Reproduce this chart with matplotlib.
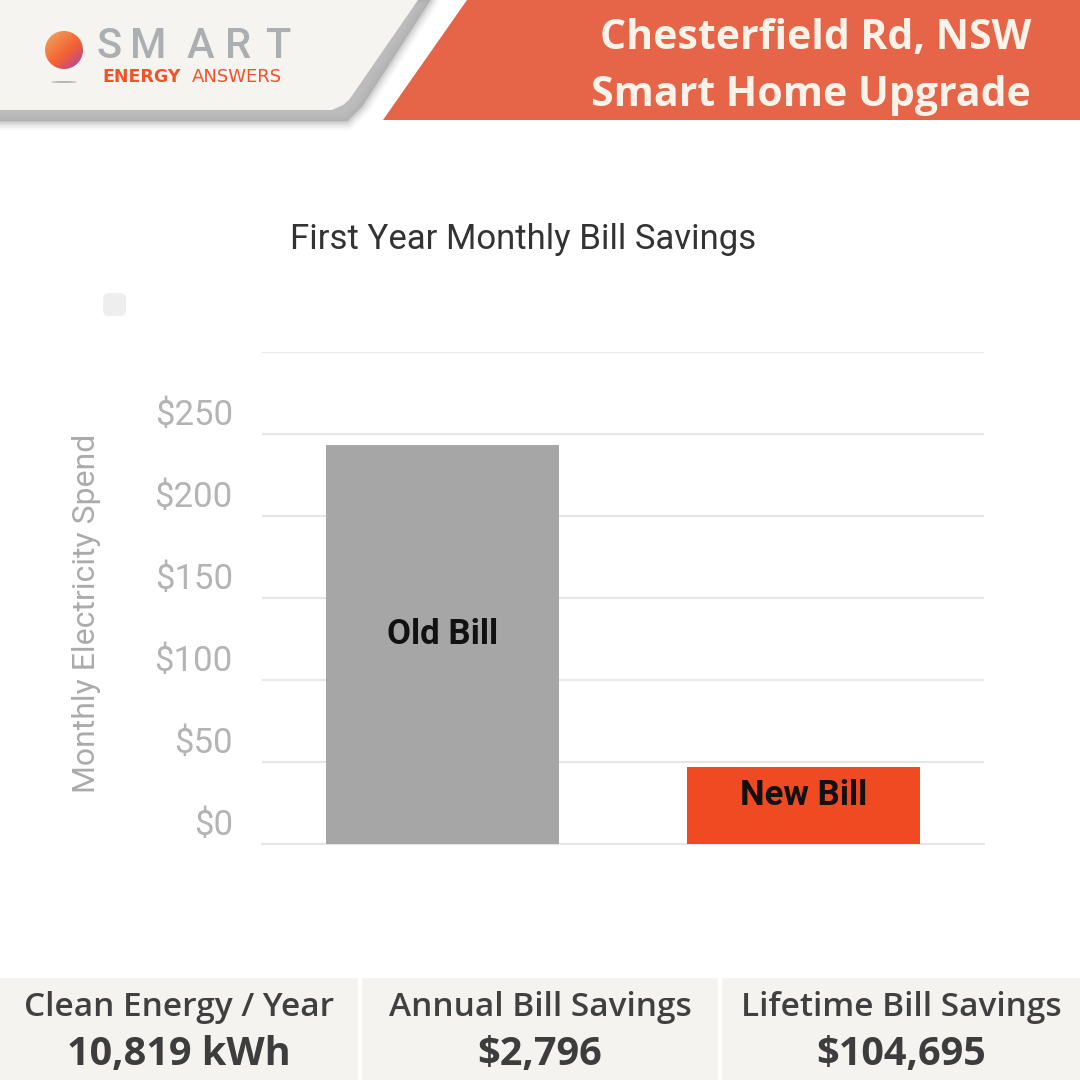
import numpy as np
import matplotlib
matplotlib.use('Agg')
import matplotlib.pyplot as plt
from matplotlib.patches import Polygon, Rectangle, FancyBboxPatch, Circle, Ellipse
from matplotlib.transforms import ScaledTranslation

# chart values
categories = ['Old Bill', 'New Bill']
bill_values = [243.5, 47]
bar_colors = ['#a6a6a6', '#f04a23']
y_ticks = [0, 50, 100, 150, 200, 250, 300]
y_tick_labels = ['$0', '$50', '$100', '$150', '$200', '$250', '']

# footer stats
stat_titles = ['Clean Energy / Year', 'Annual Bill Savings', 'Lifetime Bill Savings']
stat_values = ['10,819 kWh', '$2,796', '$104,695']

header_lines = ['Chesterfield Rd, NSW', 'Smart Home Upgrade']
logo_letters = list('SMART')

fig = plt.figure(figsize=(10.8, 10.8), dpi=100, facecolor='white')

# full figure layer in pixels for the banner and footer
bg = fig.add_axes([0, 0, 1, 1])
bg.set_xlim(0, 1080)
bg.set_ylim(1080, 0)
bg.axis('off')

# banner shadow, stacked strokes to fake the blur
shadow_pts = [(-20, 0), (430, 0), (362, 106), (347, 121), (-20, 121)]
for lw, a in zip([13, 10, 7, 4, 1], [0.08, 0.12, 0.18, 0.3, 0.6]):
    bg.add_patch(Polygon(shadow_pts, closed=True, facecolor='#aeaeae', edgecolor='#aeaeae',
                         linewidth=lw, alpha=a, joinstyle='round'))
bg.add_patch(Polygon([(0, 0), (418, 0), (349, 100), (343, 105), (332, 110), (0, 110)],
                     closed=True, facecolor='#f5f4f1', edgecolor='none'))

# orange banner
bg.add_patch(Polygon([(467, 0), (1080, 0), (1080, 120), (383, 120)], closed=True,
                     facecolor='#e66447', edgecolor='none'))
for txt, y, in zip(header_lines, [39, 96]):
    bg.text(1031, y, txt, color='#fbf3ea', fontsize=29.5, fontweight='bold', family='Open Sans',
            ha='right', va='center')

# logo sphere
yy, xx = np.mgrid[0:1:80j, 0:1:80j]
shade = np.clip(0.5 * xx + 0.55 * yy, 0, 1)[..., None]
c1 = np.array([0.95, 0.66, 0.38])
c2 = np.array([0.95, 0.38, 0.20])
c3 = np.array([0.72, 0.25, 0.62])
rgb = np.where(shade < 0.6,
               c1 + (c2 - c1) * shade / 0.6,
               c2 + (c3 - c2) * (shade - 0.6) / 0.4)
im = bg.imshow(rgb, extent=(45, 83, 69, 31), zorder=3, aspect='auto')
im.set_clip_path(Circle((64, 50), 19, transform=bg.transData))
bg.set_xlim(0, 1080)
bg.set_ylim(1080, 0)
bg.add_patch(Ellipse((64, 82), 26, 2, facecolor='#b5b5b5', edgecolor='none'))

for letter, x in zip(logo_letters, [109, 148, 201, 238, 278]):
    bg.text(x, 47, letter, color='#abafb1', fontsize=30, family='Roboto', ha='center',
            va='center', fontweight='medium')
bg.text(102, 77, 'ENERGY', color='#f0532a', fontsize=12.5, family='DejaVu Sans',
        fontweight='bold', ha='left', va='center')
bg.text(192, 77, 'ANSWERS', color='#f0532a', fontsize=13, family='DejaVu Sans',
        ha='left', va='center')

# footer panels
panels = [(0, 358), (362, 718), (722, 1080)]
for (x0, x1), title, value in zip(panels, stat_titles, stat_values):
    bg.add_patch(Rectangle((x0, 978), x1 - x0, 102, facecolor='#f4f3f0', edgecolor='none'))
    mid = (x0 + x1) / 2
    bg.text(mid, 1007, title, color='#404040', fontsize=24, family='Open Sans', ha='center',
            va='center', fontweight='semibold')
    bg.text(mid, 1054, value, color='#3d3d3d', fontsize=28.5, family='Open Sans', ha='center',
            va='center', fontweight='bold')

# legend swatch leftover from the source chart
bg.add_patch(FancyBboxPatch((103, 293), 23, 23, boxstyle='round,pad=0,rounding_size=6',
                            facecolor='#eeeeee', edgecolor='none'))

bg.text(523, 240, 'First Year Monthly Bill Savings', color='#333333', fontsize=25,
        family='Roboto', ha='center', va='center')
bg.text(87, 613, 'Monthly Electricity Spend', color='#ababab', fontsize=23, family='Roboto',
        rotation=90, ha='center', va='center')

# the actual bar chart
left, right, top, bottom = 262, 984, 352, 844
ax = fig.add_axes([left / 1080, 1 - bottom / 1080, (right - left) / 1080, (bottom - top) / 1080])
ax.patch.set_alpha(0)
x_pos = np.arange(len(categories))
ax.bar(x_pos, bill_values, width=0.643, color=bar_colors, zorder=3)
ax.set_xlim(-0.5, 1.5)
ax.set_ylim(0, 300)
ax.set_yticks(y_ticks)
ax.set_yticklabels(y_tick_labels, fontsize=25, color='#b4b4b4', family='Roboto', va='bottom')
ax.set_xticks([])
ax.tick_params(axis='y', length=0, pad=21)
# labels sit a little above their gridlines
lift = ScaledTranslation(0, 2 / 100, fig.dpi_scale_trans)
for label in ax.get_yticklabels():
    label.set_transform(label.get_transform() + lift)
ax.grid(axis='y', color='#e6e6e6', linewidth=1.6, zorder=0)
ax.set_axisbelow(True)
for side in ['top', 'right', 'left']:
    ax.spines[side].set_visible(False)
ax.spines['bottom'].set_color('#e6e6e6')
ax.spines['bottom'].set_linewidth(1.6)
for xp, name, val in zip(x_pos, categories, bill_values):
    ax.annotate(name, (xp, val / 2), xytext=(0, 7), textcoords='offset points', ha='center',
                va='center', fontsize=25, fontweight='bold', family='Roboto', color='#111111',
                zorder=4)

fig.savefig('out.png', dpi=100, facecolor='white')
